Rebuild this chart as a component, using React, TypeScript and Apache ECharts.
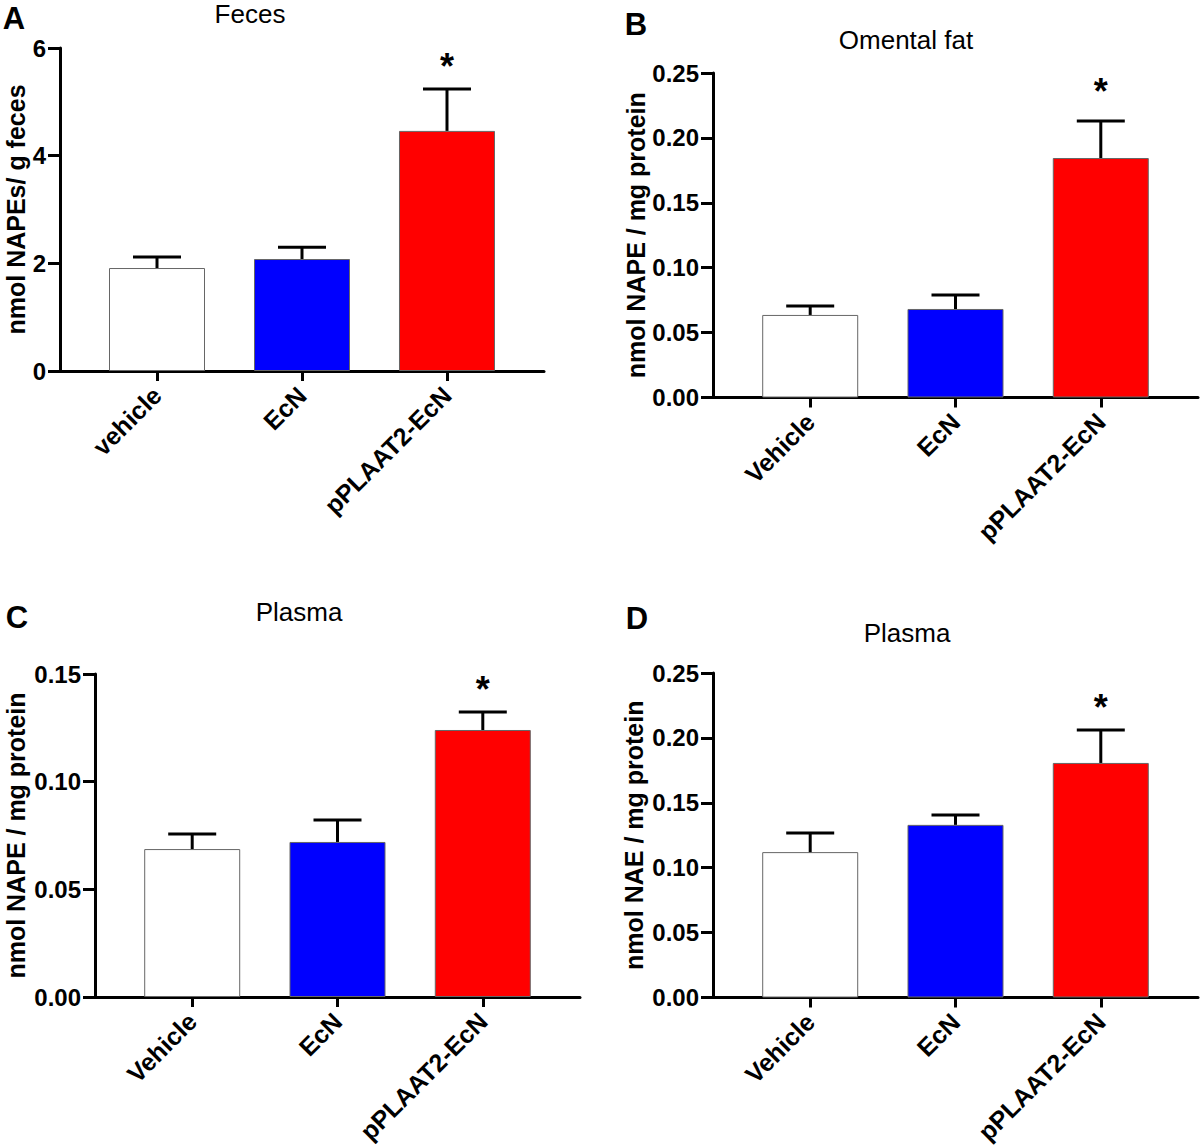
import React, { useEffect, useRef } from "react";
import * as echarts from "echarts";

// ---- data ----
const categoriesA = ["vehicle", "EcN", "pPLAAT2-EcN"];
const categoriesBCD = ["Vehicle", "EcN", "pPLAAT2-EcN"];

const fecesMean = [1.913, 2.08, 4.46];
const fecesSem = [0.205, 0.22, 0.78];

const omentalMean = [0.0636, 0.0682, 0.1845];
const omentalSem = [0.0069, 0.0108, 0.0285];

const plasmaNapeMean = [0.0687, 0.072, 0.124];
const plasmaNapeSem = [0.007, 0.0102, 0.0084];

const plasmaNaeMean = [0.112, 0.133, 0.1807];
const plasmaNaeSem = [0.0147, 0.0076, 0.0253];

const significance = ["", "", "*"];

const ticksA = [0, 2, 4, 6];
const ticksB = [0, 0.05, 0.1, 0.15, 0.2, 0.25];
const ticksC = [0, 0.05, 0.1, 0.15];
const ticksD = [0, 0.05, 0.1, 0.15, 0.2, 0.25];

const barColors = ["#ffffff", "#0000ff", "#ff0000"];

// ---- layout / style ----
const FONT = "Liberation Sans, Arial, sans-serif";

const panels = [
  { letter: "A", title: "Feces", cats: categoriesA, mean: fecesMean, sem: fecesSem, ticks: ticksA, yName: "nmol NAPEs/ g feces", digits: 0,
    grid: { left: 60, top: 48, width: 484, height: 323 }, nameGap: 31, starGap: 4,
    titlePos: [250, 14], letterPos: [14, 18] },
  { letter: "B", title: "Omental fat", cats: categoriesBCD, mean: omentalMean, sem: omentalSem, ticks: ticksB, yName: "nmol NAPE / mg protein", digits: 2,
    grid: { left: 713, top: 73, width: 485, height: 324.5 }, nameGap: 63, starGap: 12,
    titlePos: [906, 40], letterPos: [636, 24] },
  { letter: "C", title: "Plasma", cats: categoriesBCD, mean: plasmaNapeMean, sem: plasmaNapeSem, ticks: ticksC, yName: "nmol NAPE / mg protein", digits: 2,
    grid: { left: 95, top: 674, width: 485, height: 323 }, nameGap: 67, starGap: 4,
    titlePos: [299, 612], letterPos: [17, 617] },
  { letter: "D", title: "Plasma", cats: categoriesBCD, mean: plasmaNaeMean, sem: plasmaNaeSem, ticks: ticksD, yName: "nmol NAE / mg protein", digits: 2,
    grid: { left: 713, top: 673, width: 485, height: 324.5 }, nameGap: 67, starGap: 5,
    titlePos: [907, 633], letterPos: [637, 618] },
];

function buildOption() {
  const grid: any[] = [];
  const xAxis: any[] = [];
  const yAxis: any[] = [];
  const series: any[] = [];
  const graphic: any[] = [];

  panels.forEach((p, i) => {
    grid.push({ ...p.grid, containLabel: false });
    const cats = p.cats;
    xAxis.push({
      type: "value",
      gridIndex: i,
      min: -0.669,
      max: 2.669,
      axisLine: { show: true, onZero: false, lineStyle: { color: "#000", width: 3 } },
      axisTick: { show: true, customValues: [0, 1, 2], length: 10, lineStyle: { color: "#000", width: 3 } },
      axisLabel: {
        customValues: [0, 1, 2],
        rotate: 45,
        margin: 20,
        formatter: (v: number) => cats[Math.round(v)] ?? "",
        color: "#000",
        fontWeight: "bold",
        fontSize: 25,
        fontFamily: FONT,
      },
      splitLine: { show: false },
    });
    const tmax = p.ticks[p.ticks.length - 1];
    const interval = p.ticks[1] - p.ticks[0];
    yAxis.push({
      type: "value",
      gridIndex: i,
      min: 0,
      max: tmax,
      interval,
      name: p.yName,
      nameLocation: "middle",
      nameGap: p.nameGap,
      nameRotate: 90,
      nameTextStyle: { color: "#000", fontWeight: "bold", fontSize: 25, fontFamily: FONT },
      axisLine: { show: true, onZero: false, lineStyle: { color: "#000", width: 3 } },
      axisTick: { show: true, length: 12, lineStyle: { color: "#000", width: 3 } },
      axisLabel: {
        margin: 14,
        formatter: (v: number) => v.toFixed(p.digits),
        color: "#000",
        fontWeight: "bold",
        fontSize: 24,
        fontFamily: FONT,
      },
      splitLine: { show: false },
    });

    series.push({
      type: "bar",
      xAxisIndex: i,
      yAxisIndex: i,
      barWidth: 96,
      data: p.mean.map((v, j) => ({ value: [j, v], itemStyle: { color: barColors[j] } })),
      itemStyle: { borderColor: "#666", borderWidth: 1 },
      z: 2,
    });

    const starGap = p.starGap;
    series.push({
      type: "custom",
      xAxisIndex: i,
      yAxisIndex: i,
      z: 5,
      data: p.mean.map((v, j) => [j, v, p.sem[j]]),
      renderItem: (params: any, api: any) => {
        const x = api.value(0);
        const m = api.value(1);
        const e = api.value(2);
        const p0 = api.coord([x, m]);
        const p1 = api.coord([x, m + e]);
        const children: any[] = [
          { type: "line", shape: { x1: p0[0], y1: p0[1], x2: p1[0], y2: p1[1] }, style: { stroke: "#000", lineWidth: 3 } },
          { type: "line", shape: { x1: p1[0] - 24, y1: p1[1], x2: p1[0] + 24, y2: p1[1] }, style: { stroke: "#000", lineWidth: 3 } },
        ];
        const sig = significance[params.dataIndex];
        if (sig) {
          children.push({
            type: "text",
            x: p1[0],
            y: p1[1] - starGap,
            style: { text: sig, fill: "#000", font: `bold 36px ${FONT}`, textAlign: "center", textVerticalAlign: "bottom" },
          });
        }
        return { type: "group", children };
      },
    });

    graphic.push({
      type: "text",
      x: p.titlePos[0],
      y: p.titlePos[1],
      style: { text: p.title, fill: "#000", font: `normal 26px ${FONT}`, textAlign: "center", textVerticalAlign: "middle" },
    });
    graphic.push({
      type: "text",
      x: p.letterPos[0],
      y: p.letterPos[1],
      style: { text: p.letter, fill: "#000", font: `bold 31px ${FONT}`, textAlign: "center", textVerticalAlign: "middle" },
    });
  });

  return {
    animation: false,
    backgroundColor: "#fff",
    grid,
    xAxis,
    yAxis,
    series,
    graphic,
  };
}

export default function App() {
  const ref = useRef<HTMLDivElement>(null);
  useEffect(() => {
    if (!ref.current) return;
    const chart = echarts.init(ref.current, undefined, { renderer: "svg" });
    chart.setOption(buildOption() as any);
    return () => chart.dispose();
  }, []);
  return (
    <div
      ref={ref}
      style={{ position: "absolute", left: 0, top: 0, width: 1200, height: 1147, background: "#fff" }}
    />
  );
}
